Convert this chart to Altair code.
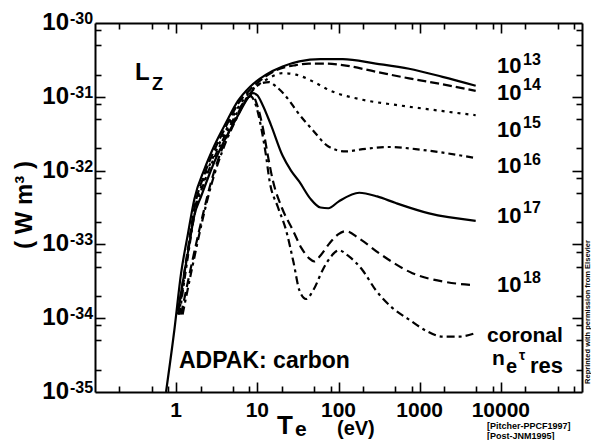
import altair as alt
import pandas as pd

FONT = "Liberation Sans"
W, H = 487, 369

# ---- curve data: Te (eV) and log10 Lz (W m^3) ----
te_13 = [0.75, 0.95, 1.15, 1.4, 1.68, 2.23, 2.96, 4.12, 5.74, 8.2, 12.8, 20.5, 32.9, 60, 113, 288, 741, 1910, 4900]
lz_13 = [-35.0, -34.16, -33.39, -32.85, -32.38, -31.98, -31.66, -31.35, -31.06, -30.86, -30.70, -30.59, -30.52, -30.49, -30.49, -30.55, -30.62, -30.73, -30.85]

te_14 = [1.05, 1.4, 1.68, 2.23, 2.96, 4.12, 5.74, 8.2, 12.8, 17, 30, 43, 70, 112, 288, 741, 1910, 4900]
lz_14 = [-33.95, -33.05, -32.5, -32.05, -31.72, -31.40, -31.10, -30.90, -30.72, -30.64, -30.57, -30.55, -30.55, -30.57, -30.66, -30.75, -30.83, -30.92]

te_15 = [1.08, 1.4, 1.68, 2.23, 2.96, 4.12, 5.74, 8.2, 12.8, 20.5, 29.9, 50, 76.9, 198, 508, 1306, 4900]
lz_15 = [-33.95, -33.1, -32.55, -32.1, -31.78, -31.45, -31.15, -30.93, -30.77, -30.68, -30.70, -30.80, -30.91, -31.04, -31.11, -31.17, -31.25]

te_16 = [1.1, 1.4, 1.68, 2.23, 2.96, 4.12, 5.74, 8.2, 11, 14, 17, 24.7, 29.9, 48, 77, 123, 198, 420, 1080, 4900]
lz_16 = [-33.95, -33.15, -32.6, -32.15, -31.82, -31.50, -31.20, -30.95, -30.82, -30.80, -30.86, -31.05, -31.18, -31.45, -31.68, -31.74, -31.71, -31.68, -31.72, -31.83]

te_17 = [1.05, 1.4, 1.68, 2.03, 2.96, 4.12, 6.0, 7.5, 8.8, 10, 11.5, 14.7, 20.5, 26, 32.9, 45, 60, 75, 100, 180, 300, 508, 1306, 4900]
lz_17 = [-33.9, -33.1, -32.6, -32.35, -31.88, -31.55, -31.22, -31.03, -30.95, -30.98, -31.1, -31.38, -31.8, -32.0, -32.15, -32.38, -32.5, -32.51, -32.42, -32.30, -32.35, -32.44, -32.58, -32.68]

te_18 = [1.15, 1.6, 2.13, 2.7, 3.75, 5.5, 7.5, 8.7, 10, 11.6, 13.5, 15.5, 20, 27.2, 35, 43.6, 50, 60, 77, 100, 123, 180, 317, 814, 2100, 4460]
lz_18 = [-33.95, -33.2, -32.6, -32.15, -31.68, -31.27, -31.02, -30.98, -31.12, -31.40, -31.8, -32.13, -32.5, -32.80, -33.05, -33.19, -33.23, -33.15, -32.99, -32.86, -32.82, -32.92, -33.12, -33.39, -33.51, -33.55]

te_cor = [1.2, 1.6, 2.13, 2.7, 3.75, 5.5, 7.3, 8.2, 9.5, 11.3, 12.8, 14.1, 18, 22.5, 28, 32.9, 39.7, 50, 63.6, 80, 102, 130, 198, 288, 450, 742, 1200, 1910, 3000, 4900]
lz_cor = [-33.95, -33.28, -32.65, -32.2, -31.72, -31.3, -31.04, -30.99, -31.1, -31.45, -31.8, -32.13, -32.5, -32.80, -33.25, -33.62, -33.74, -33.6, -33.35, -33.17, -33.08, -33.15, -33.35, -33.62, -33.85, -34.02, -34.17, -34.25, -34.25, -34.20]

# ---- axis ticks / labels ----
x_domain = [0.1, 1e5]
y_domain = [1e-35, 1e-30]
x_major = [1, 10, 100, 1000, 10000]
x_major_labels = ["1", "10", "100", "1000", "10000"]
x_minor = [k * 10.0 ** d for d in range(-1, 5) for k in (2, 5, 8)]
y_major = [1e-35, 1e-34, 1e-33, 1e-32, 1e-31, 1e-30]
y_major_exp = ["-35", "-34", "-33", "-32", "-31", "-30"]
y_minor = [k * 10.0 ** d for d in range(-35, -30) for k in (2, 5, 8)]

x_scale = alt.Scale(type="log", domain=x_domain, nice=False)
y_scale = alt.Scale(type="log", domain=y_domain, nice=False)
X = lambda f: alt.X(f, type="quantitative", scale=x_scale, axis=None)
Y = lambda f: alt.Y(f, type="quantitative", scale=y_scale, axis=None)

styles = [
    (te_13, lz_13, None),
    (te_14, lz_14, [9, 4]),
    (te_15, lz_15, [3, 5]),
    (te_16, lz_16, [7, 4, 3, 4]),
    (te_17, lz_17, None),
    (te_18, lz_18, [9, 5]),
    (te_cor, lz_cor, [8, 4, 3, 4]),
]

x_vals = x_major + x_minor
y_vals = y_major[1:-1] + y_minor
IS_MAJOR = "abs(log(datum.value)/LN10 - round(log(datum.value)/LN10)) < 0.001"


def label(txt, x, y, size, align="left", baseline="alphabetic", angle=0):
    kw = dict(font=FONT, fontSize=size, fontWeight="bold", align=align, baseline=baseline, color="black")
    if angle:
        kw["angle"] = angle
    return alt.Chart(pd.DataFrame({"t": [txt]})).mark_text(**kw).encode(
        x=alt.value(x), y=alt.value(y), text="t:N"
    )


def build(inward):
    sign = -1 if inward else 1
    tick_size = {"condition": {"test": IS_MAJOR, "value": sign * 10}, "value": sign * 6}
    base_axis = dict(labels=False, title=None, grid=False, domain=True, domainColor="black",
                     domainWidth=2, tickColor="black", tickWidth=1.6, ticks=True, tickSize=tick_size)

    layers = []
    for te, lz, dash in styles:
        df = pd.DataFrame({"Te": te, "Lz": [10.0 ** v for v in lz]})
        kw = dict(color="black", strokeWidth=2.2, interpolate="monotone", clip=True)
        if dash is not None:
            kw["strokeDash"] = dash
        layers.append(alt.Chart(df).mark_line(**kw).encode(x=X("Te"), y=Y("Lz")))

    # frame + inward ticks via axes on all four sides
    axis_df = pd.DataFrame({"ax": [1.0], "ay": [1e-32]})
    for xo, yo in (("bottom", "left"), ("top", "right")):
        layers.append(
            alt.Chart(axis_df).mark_point(opacity=0).encode(
                x=alt.X("ax:Q", scale=x_scale, axis=alt.Axis(orient=xo, values=x_vals, **base_axis)),
                y=alt.Y("ay:Q", scale=y_scale, axis=alt.Axis(orient=yo, values=y_vals, **base_axis)),
            )
        )

    # x tick labels
    layers.append(
        alt.Chart(pd.DataFrame({"v": x_major, "t": x_major_labels})).mark_text(
            font=FONT, fontSize=21, fontWeight="bold", align="center", baseline="alphabetic", color="black"
        ).encode(x=X("v"), y=alt.value(394), text="t:N")
    )
    # y tick labels: 10 + exponent
    ydf = pd.DataFrame({"v": y_major, "e": y_major_exp})
    layers.append(
        alt.Chart(ydf).mark_text(
            text="10", font=FONT, fontSize=24, fontWeight="bold", align="right", baseline="alphabetic", dy=7, color="black"
        ).encode(y=Y("v"), x=alt.value(-26))
    )
    layers.append(
        alt.Chart(ydf).mark_text(
            font=FONT, fontSize=16, fontWeight="bold", align="left", baseline="alphabetic", dy=1, color="black"
        ).encode(y=Y("v"), x=alt.value(-25), text="e:N")
    )

    # curve labels
    dens = [("13", 50, 42), ("14", 77, 67), ("15", 114, 105), ("16", 150, 142), ("17", 200, 190), ("18", 269, 260)]
    for e, yb, ye in dens:
        layers.append(label("10", 402, yb, 22))
        layers.append(label(e, 428, ye, 16))
    layers.append(label("coronal", 392, 319, 21))
    layers.append(label("n", 397, 342, 21))
    layers.append(label("e", 411, 350, 20))
    layers.append(label("τ", 424, 337, 14))
    layers.append(label("res", 435, 350, 22))

    layers.append(label("L", 40, 57, 24))
    layers.append(label("Z", 57, 67, 18))
    layers.append(label("ADPAK:  carbon", 84, 345, 23))

    # axis titles
    layers.append(label("T", 182, 411, 26))
    layers.append(label("e", 200, 413, 21))
    layers.append(label("(eV)", 242, 412, 20))
    layers.append(label("( W m³ )", -70, 182, 24, align="center", baseline="middle", angle=270))

    layers.append(label("Reprinted with permission from Elsevier", 493, 289, 7.5, align="center", baseline="middle", angle=270))
    layers.append(label("[Pitcher-PPCF1997]", 392, 406, 9))
    layers.append(label("[Post-JNM1995]", 392, 416, 9))

    return alt.layer(*layers).resolve_axis(x="independent", y="independent").properties(
        width=W, height=H,
        padding={"left": 87, "top": 15, "right": 9, "bottom": 48},
        autosize=alt.AutoSizeParams(type="none"),
        background="white",
    )


try:
    chart = build(True)
    chart.to_dict()
except Exception:
    chart = build(False)

chart.save("out.html", embed_options={"renderer": "svg", "actions": False})
